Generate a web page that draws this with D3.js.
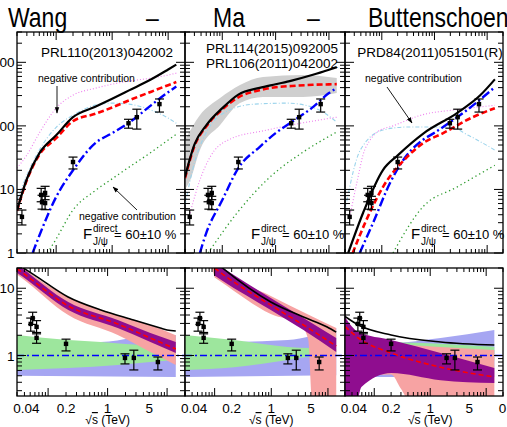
<!DOCTYPE html>
<html><head><meta charset="utf-8">
<script src="https://cdn.jsdelivr.net/npm/d3@7"></script>
<style>
body{margin:0;background:#fff}
svg{display:block}
text{font-family:"Liberation Sans",Arial,Helvetica,sans-serif;fill:#000}
</style></head><body>
<svg id="c" width="507" height="427"></svg>
<script>
// ---------------- DATA ----------------
const titleWords = ["Wang", "–", "Ma", "–", "Buttenschoen"];
const refLabels = [["PRL110(2013)042002"], ["PRL114(2015)092005", "PRL106(2011)042002"], ["PRD84(2011)051501(R)"]];
const fracLabel = "= 60±10 %";
const negLabel = "negative contribution";
const xAxisTitle = "(TeV)";
const topYTicks = [1, 10, 100, 1000];
const botYTicks = [1, 10];
const botXTicks = [0.04, 0.2, 1, 5];

// measured points: top row (cross section) and bottom row (ratio)
const topPtS  = [0.0245, 0.054, 0.056, 0.0635, 0.0635, 0.2, 1.96, 2.76, 7];
const topPtV  = [3.7, 8.2, 6.3, 8.8, 6.1, 27, 110, 137, 220];
const topPtLo = [2.76, 6.4, 4.9, 6.9, 4.8, 21, 92, 89, 165];
const topPtHi = [4.74, 10.4, 8.1, 11.2, 7.8, 32.3, 127, 183, 265];
const botPtS  = [0.051, 0.055, 0.064, 0.064, 0.2, 1.96, 2.76, 7];
const botPtV  = [2.95, 3.6, 2.66, 1.83, 1.49, 0.92, 0.92, 0.80];
const botPtLo = [2.3, 2.9, 2.1, 1.52, 1.17, 0.75, 0.61, 0.61];
const botPtHi = [3.6, 4.4, 3.3, 2.2, 1.75, 1.06, 1.2, 0.95];

// ---- Wang (top) ----
const wangBlack = [[0.02,4.7],[0.03,14.6],[0.05,37],[0.1,71],[0.2,137],[0.5,200],[1,268],[2,362],[5,540],[10,770],[14,920]];
const wangRed   = [[0.02,4.6],[0.03,14],[0.05,35],[0.1,64],[0.2,119],[0.5,155],[1,195],[2,252],[5,345],[10,437],[14,489]];
const wangBlue  = [[0.038,1],[0.05,1.87],[0.1,7.6],[0.2,20],[0.5,53.6],[1,77],[2,112],[5,212],[10,339],[14,415]];
const wangGreen = [[0.07,1],[0.1,1.66],[0.2,4.75],[0.5,9.6],[1,14.7],[2,22.4],[5,38.6],[10,60],[14,74]];
const wangPink  = [[0.02,21.7],[0.03,34.8],[0.05,77],[0.1,190],[0.2,305],[0.5,391],[1,453],[2,505],[5,565],[10,630],[14,676]];
const wangCyan  = [[0.02,6.8],[0.03,16.8],[0.05,41.6],[0.1,95],[0.2,147],[0.5,212],[1,228],[2,220],[5,177],[10,133],[14,110]];
// ---- Ma (top) ----
const maBlack = [[0.02,15.7],[0.03,50.6],[0.05,102],[0.1,190],[0.2,311],[0.5,396],[1,452],[2,515],[5,636],[10,765],[14,841]];
const maRed   = [[0.02,15],[0.03,48],[0.05,98],[0.1,182],[0.2,282],[0.5,364],[1,405],[2,424],[5,443],[10,450],[14,454]];
const maBandHi = [[0.02,60],[0.038,147],[0.091,274],[0.215,438],[0.58,585],[3.27,630],[14,565]];
const maBandLo = [[0.02,10],[0.025,14],[0.038,41.5],[0.091,103],[0.215,229],[0.58,285],[3.27,285],[14,328]];
const maBlue  = [[0.038,1],[0.05,2.06],[0.1,6.8],[0.2,21.7],[0.5,46.5],[1,77],[2,115],[5,197],[10,328],[14,392]];
const maGreen = [[0.054,1],[0.189,4.26],[0.787,15.7],[3.27,38.6],[14,80]];
const maPink  = [[0.0249,4.25],[0.038,14],[0.059,32.3],[0.129,60],[0.69,86],[14,137]];
const maCyan  = [[0.02,5.7],[0.031,29],[0.047,71],[0.091,147],[0.38,219],[1.65,228],[5.5,190],[14,115]];
// ---- Buttenschoen (top) ----
const butBlack = [[0.023,1],[0.044,4.26],[0.105,20.2],[0.203,34.7],[0.63,77],[2.67,159],[7.3,300],[14,540]];
const butRed   = [[0.028,1],[0.048,2.96],[0.105,10.9],[0.3,32.3],[0.61,53.6],[1.46,77],[5.3,137],[14,190]];
const butBlue  = [[0.038,1],[0.068,2.96],[0.143,12.6],[0.3,34.7],[0.6,60],[1,78],[2,115],[4.13,177],[8.3,282],[14,407]];
const butGreen = [[0.163,1],[0.6,5.3],[2.67,10.9],[14,24]];
const butPink  = [[0.025,3.96],[0.035,15],[0.044,35],[0.06,60],[0.081,80],[0.163,100],[0.6,150],[2.67,180],[14,211]];
const butCyan  = [[0.02,4.7],[0.039,41.6],[0.105,86],[0.3,96],[1.96,96],[4.4,71],[14,41.6]];

// ---- bottom row (ratios) ----
const unity = [[0.03,1],[20,1]];
const wangRatioBlack = [[0.03,23],[0.059,15.7],[0.217,7.41],[0.77,4.75],[2.73,3.37],[7.69,2.56],[10,2.39],[14,2.31]];
const wangRatioRed   = [[0.03,19.5],[0.036,17.4],[0.218,5.45],[1.48,2.94],[5.24,1.82],[14,1.25]];
const wangPinkHi = [[0.03,23.5],[0.036,20.7],[0.218,7.41],[1.48,4.0],[5.24,2.84],[14,2.0]];
const wangPinkLo = [[0.03,16],[0.036,14.2],[0.218,4.0],[1.48,2.02],[5.24,1.13],[14,0.72]];
const wangPurpHi = [[0.03,22.5],[0.036,20],[0.218,6.25],[1.48,3.37],[5.24,2.16],[14,1.59]];
const wangPurpLo = [[0.03,17],[0.036,15.2],[0.218,4.75],[1.48,2.56],[5.24,1.59],[14,1.09]];
const wangGreenHi = [[0.03,2.02],[0.218,1.70],[0.77,1.59],[5.24,1.43],[14,1.43]];
const wangGreenLo = [[0.03,0.61],[0.218,0.65],[1.48,0.72],[5.24,0.80],[14,0.86]];
const wangBlueHi = [[0.03,1.59],[0.77,1.59],[2.73,1.82],[14,2.02]];
const wangBlueLo = [[0.03,0.50],[14,0.48]];

const maRatioBlack = [[0.1,25],[0.131,20.7],[0.98,6.25],[3.7,3.73],[9.7,2.66],[14,2.23]];
const maRatioRed   = [[0.1,20],[0.131,16.8],[0.98,5.6],[3.7,2.84],[14,1.38]];
const maPinkHi = [[0.08,30],[0.107,22],[0.98,7.7],[3.7,4.4],[14,2.56]];
const maPinkLo = [[0.1,14.5],[0.131,12.4],[0.98,4.14],[3.3,2.84],[4.5,1.7],[5.3,0.2],[14,0.2]];
const maPurpHi = [[0.1,24],[0.131,20.7],[0.98,7.16],[3.7,3.6],[14,1.82]];
const maPurpLo = [[0.1,15.5],[0.131,13.3],[0.98,4.75],[3.7,2.39],[14,1.13]];
const maGreenHi = [[0.03,2.02],[0.22,1.70],[1.95,1.34],[4.9,1.29],[14,1.25]];
const maGreenLo = [[0.03,0.61],[0.22,0.67],[1.95,0.86],[4.9,0.95],[14,0.95]];
const maBlueHi = [[0.03,1.53],[1.95,1.70],[14,2.56]];
const maBlueLo = [[0.03,0.48],[14,0.51]];

const butRatioBlack = [[0.03,3.8],[0.052,2.84],[0.2,2.02],[1.53,1.59],[14,1.43]];
const butRatioRed   = [[0.03,2.7],[0.052,1.82],[0.2,1.09],[1.53,0.67],[14,0.48]];
const butPurpHi = [[0.03,3.7],[0.052,2.23],[0.2,1.70],[1.53,1.09],[14,0.65]];
const butPurpLo = [[0.03,0.2],[0.048,0.2],[0.059,0.34],[0.2,0.55],[1.53,0.43],[14,0.39]];
const butPinkHi = [[0.03,2.5],[0.2,1.53],[1.53,1.34],[14,1.21]];
const butPinkLo = [[0.03,0.45],[0.2,0.52],[0.3,0.32],[0.45,0.2],[14,0.2]];
const butGreenHi = [[0.03,1.6],[0.2,1.57],[1.53,1.5],[14,1.35]];
const butGreenLo = [[0.03,0.6],[14,0.85]];
const butBlueHi = [[0.03,1.4],[0.2,1.5],[1.53,1.82],[14,2.39]];
const butBlueLo = [[0.03,0.48],[14,0.48]];

// ---------------- LAYOUT / STYLE ----------------
const PANELS = [{x0:17,x1:185},{x0:185,x1:345},{x0:345,x1:503}];
const TOP = {y0:32, y1:253, xd:[0.02,20], yd:[1,3000]};
const BOT = {y0:268, y1:396, xd:[0.03,20], yd:[0.25,20]};
const ST = {
  black:{stroke:"#000", w:2.2, dash:null},
  red:{stroke:"#ff0000", w:2.6, dash:"6,3"},
  blue:{stroke:"#0000ff", w:2.4, dash:"9,3,2,3"},
  green:{stroke:"#2e9b2e", w:1.3, dash:"1.3,3"},
  pink:{stroke:"#ee82ee", w:1.1, dash:"1,2"},
  cyan:{stroke:"#9cd4ec", w:1.1, dash:"4,2,1,2"},
  bluethin:{stroke:"#0000ff", w:1.6, dash:"7,3,2,3"},
  redthin:{stroke:"#ff0000", w:1.6, dash:"5,3"},
  blackthin:{stroke:"#000", w:1.6, dash:null}
};
const FILL = {gray:"#cfcfcf", pink:"#f7a3a3", purple:"#8f0d8f", green:"#9de69d", blue:"#a6a6f2"};

const topSeries = [
  {band:[maBandHi,maBandLo], p:1},
  {d:wangCyan,s:"cyan",p:0},{d:wangPink,s:"pink",p:0},{d:wangGreen,s:"green",p:0},{d:wangBlue,s:"blue",p:0},{d:wangRed,s:"red",p:0},{d:wangBlack,s:"black",p:0},
  {d:maCyan,s:"cyan",p:1},{d:maPink,s:"pink",p:1},{d:maGreen,s:"green",p:1},{d:maBlue,s:"blue",p:1},{d:maRed,s:"red",p:1},{d:maBlack,s:"black",p:1},
  {d:butCyan,s:"cyan",p:2},{d:butPink,s:"pink",p:2},{d:butGreen,s:"green",p:2},{d:butBlue,s:"blue",p:2},{d:butRed,s:"red",p:2},{d:butBlack,s:"black",p:2}
];
const botBands = [
  [[wangBlueHi,wangBlueLo,"blue"],[wangGreenHi,wangGreenLo,"green"],[wangPinkHi,wangPinkLo,"pink"],[wangPurpHi,wangPurpLo,"purple"]],
  [[maBlueHi,maBlueLo,"blue"],[maGreenHi,maGreenLo,"green"],[maPinkHi,maPinkLo,"pink"],[maPurpHi,maPurpLo,"purple"]],
  [[butBlueHi,butBlueLo,"blue"],[butGreenHi,butGreenLo,"green"],[butPinkHi,butPinkLo,"pink"],[butPurpHi,butPurpLo,"purple"]]
];
const botLines = [[wangRatioRed,wangRatioBlack],[maRatioRed,maRatioBlack],[butRatioRed,butRatioBlack]];

// ---------------- DRAW ----------------
const svg = d3.select("#c");
const defs = svg.append("defs");
defs.append("marker").attr("id","ah").attr("viewBox","0 0 10 10").attr("refX",9).attr("refY",5)
  .attr("markerWidth",7).attr("markerHeight",7).attr("orient","auto-start-reverse")
  .append("path").attr("d","M0,1.5 L10,5 L0,8.5 Z").attr("fill","#000");

function scales(p,row){
  return {x:d3.scaleLog().domain(row.xd).range([p.x0,p.x1]),
          y:d3.scaleLog().domain(row.yd).range([row.y1,row.y0])};
}
function logTicks(lo,hi){
  const out=[];
  for(let e=Math.floor(Math.log10(lo))-1;e<=Math.ceil(Math.log10(hi));e++)
    for(let m=1;m<10;m++){const v=m*Math.pow(10,e); if(v>=lo*0.999&&v<=hi*1.001) out.push({v,major:m===1});}
  return out;
}
function clipFor(id,p,row){
  defs.append("clipPath").attr("id",id).append("rect")
    .attr("x",p.x0).attr("y",row.y0).attr("width",p.x1-p.x0).attr("height",row.y1-row.y0);
}
function drawLine(g,sc,data,st){
  const ln=d3.line().x(d=>sc.x(d[0])).y(d=>sc.y(d[1])).curve(d3.curveMonotoneX);
  g.append("path").attr("d",ln(data)).attr("fill","none").attr("stroke",st.stroke)
    .attr("stroke-width",st.w).attr("stroke-dasharray",st.dash);
}
function drawBand(g,sc,hi,lo,fill){
  const ln=d3.line().x(d=>sc.x(d[0])).y(d=>sc.y(d[1])).curve(d3.curveMonotoneX);
  const a=ln(hi), b=ln(lo.slice().reverse());
  g.append("path").attr("d",a+"L"+b.slice(1)+"Z").attr("fill",fill).attr("stroke","none");
}
function drawPoints(g,sc,S,V,Lo,Hi){
  S.forEach((s,i)=>{
    const x=sc.x(s);
    g.append("line").attr("x1",x).attr("x2",x).attr("y1",sc.y(Lo[i])).attr("y2",sc.y(Hi[i])).attr("stroke","#000").attr("stroke-width",1.2);
    [Lo[i],Hi[i]].forEach(v=>g.append("line").attr("x1",x-4.5).attr("x2",x+4.5).attr("y1",sc.y(v)).attr("y2",sc.y(v)).attr("stroke","#000").attr("stroke-width",1.2));
    g.append("rect").attr("x",x-2.2).attr("y",sc.y(V[i])-2.2).attr("width",4.4).attr("height",4.4).attr("fill","#000");
  });
}
function drawFrame(sc,p,row){
  const g=svg.append("g");
  g.append("rect").attr("x",p.x0).attr("y",row.y0).attr("width",p.x1-p.x0).attr("height",row.y1-row.y0)
    .attr("fill","none").attr("stroke","#000").attr("stroke-width",1.3);
  logTicks(row.xd[0],row.xd[1]).forEach(t=>{
    const x=sc.x(t.v), L=t.major?8:4;
    g.append("line").attr("x1",x).attr("x2",x).attr("y1",row.y0).attr("y2",row.y0+L).attr("stroke","#000").attr("stroke-width",1);
    g.append("line").attr("x1",x).attr("x2",x).attr("y1",row.y1).attr("y2",row.y1-L).attr("stroke","#000").attr("stroke-width",1);
  });
  logTicks(row.yd[0],row.yd[1]).forEach(t=>{
    const y=sc.y(t.v), L=t.major?9:5;
    g.append("line").attr("x1",p.x0).attr("x2",p.x0+L).attr("y1",y).attr("y2",y).attr("stroke","#000").attr("stroke-width",1);
    g.append("line").attr("x1",p.x1).attr("x2",p.x1-L).attr("y1",y).attr("y2",y).attr("stroke","#000").attr("stroke-width",1);
  });
}

// ---- top row ----
PANELS.forEach((p,i)=>{
  const sc=scales(p,TOP); clipFor("ct"+i,p,TOP);
  const g=svg.append("g").attr("clip-path","url(#ct"+i+")");
  topSeries.filter(o=>o.p===i).forEach(o=>{
    if(o.band) drawBand(g,sc,o.band[0],o.band[1],FILL.gray);
    else drawLine(g,sc,o.d,ST[o.s]);
  });
  drawPoints(g,sc,topPtS,topPtV,topPtLo,topPtHi);
  drawFrame(sc,p,TOP);
  refLabels[i].forEach((t,k)=>{
    svg.append("text").attr("x",p.x0+[90,87,85][i]).attr("y",(refLabels[i].length>1?53:57)+k*14.5)
      .attr("text-anchor","middle").attr("font-size",13.5).text(t);
  });
  const fx=p.x0+66;
  svg.append("text").attr("x",fx).attr("y",239).attr("font-size",15).text("F");
  svg.append("text").attr("x",fx+10).attr("y",232).attr("font-size",10).text("direct");
  svg.append("text").attr("x",fx+10).attr("y",245).attr("font-size",10).text("J/ψ");
  svg.append("text").attr("x",fx+31).attr("y",239).attr("font-size",13).text(fracLabel);
});
svg.append("text").attr("x",38).attr("y",82).attr("font-size",10.5).text(negLabel);
svg.append("line").attr("x1",57).attr("y1",86).attr("x2",57).attr("y2",113).attr("stroke","#000").attr("stroke-width",0.9).attr("marker-end","url(#ah)");
svg.append("text").attr("x",365).attr("y",82).attr("font-size",10.5).text(negLabel);
svg.append("line").attr("x1",387).attr("y1",87).attr("x2",412).attr("y2",123).attr("stroke","#000").attr("stroke-width",0.9).attr("marker-end","url(#ah)");
svg.append("text").attr("x",79).attr("y",220).attr("font-size",10.5).text(negLabel);
svg.append("line").attr("x1",137).attr("y1",210).attr("x2",113).attr("y2",187).attr("stroke","#000").attr("stroke-width",0.9).attr("marker-end","url(#ah)");

// ---- bottom row ----
PANELS.forEach((p,i)=>{
  const sc=scales(p,BOT); clipFor("cb"+i,p,BOT);
  const g=svg.append("g").attr("clip-path","url(#cb"+i+")");
  botBands[i].forEach(b=>drawBand(g,sc,b[0],b[1],FILL[b[2]]));
  drawLine(g,sc,unity,ST.bluethin);
  drawLine(g,sc,botLines[i][0],ST.redthin);
  drawLine(g,sc,botLines[i][1],ST.blackthin);
  drawPoints(g,sc,botPtS,botPtV,botPtLo,botPtHi);
  drawFrame(sc,p,BOT);
  botXTicks.forEach(v=>svg.append("text").attr("x",sc.x(v)+(v===0.04?2:0)).attr("y",413).attr("text-anchor","middle").attr("font-size",13.5).text(String(v)));
  const t=svg.append("text").attr("x",sc.x(1)).attr("y",424).attr("text-anchor","middle").attr("font-size",12);
  t.append("tspan").text("√");
  t.append("tspan").attr("style","text-decoration:overline").text("s");
  t.append("tspan").text(" "+xAxisTitle);
});
svg.append("text").attr("x",503+(d3.scaleLog().domain(BOT.xd).range([0,158])(0.04))+2).attr("y",413).attr("text-anchor","middle").attr("font-size",13.5).text(String(botXTicks[0]));

const scT=scales(PANELS[0],TOP), scB=scales(PANELS[0],BOT);
topYTicks.forEach(v=>svg.append("text").attr("x",14.5).attr("y",scT.y(v)+5).attr("text-anchor","end").attr("font-size",13.5).text(String(v)));
botYTicks.forEach(v=>svg.append("text").attr("x",14.5).attr("y",scB.y(v)+5).attr("text-anchor","end").attr("font-size",13.5).text(String(v)));

const titleX=[8,146,213,307,368];
titleWords.forEach((w,i)=>svg.append("text").attr("x",titleX[i]).attr("y",27).attr("font-size",23)
  .attr("transform","translate(0,27) scale(1,1.2) translate(0,-27)").text(w));
</script></body></html>
